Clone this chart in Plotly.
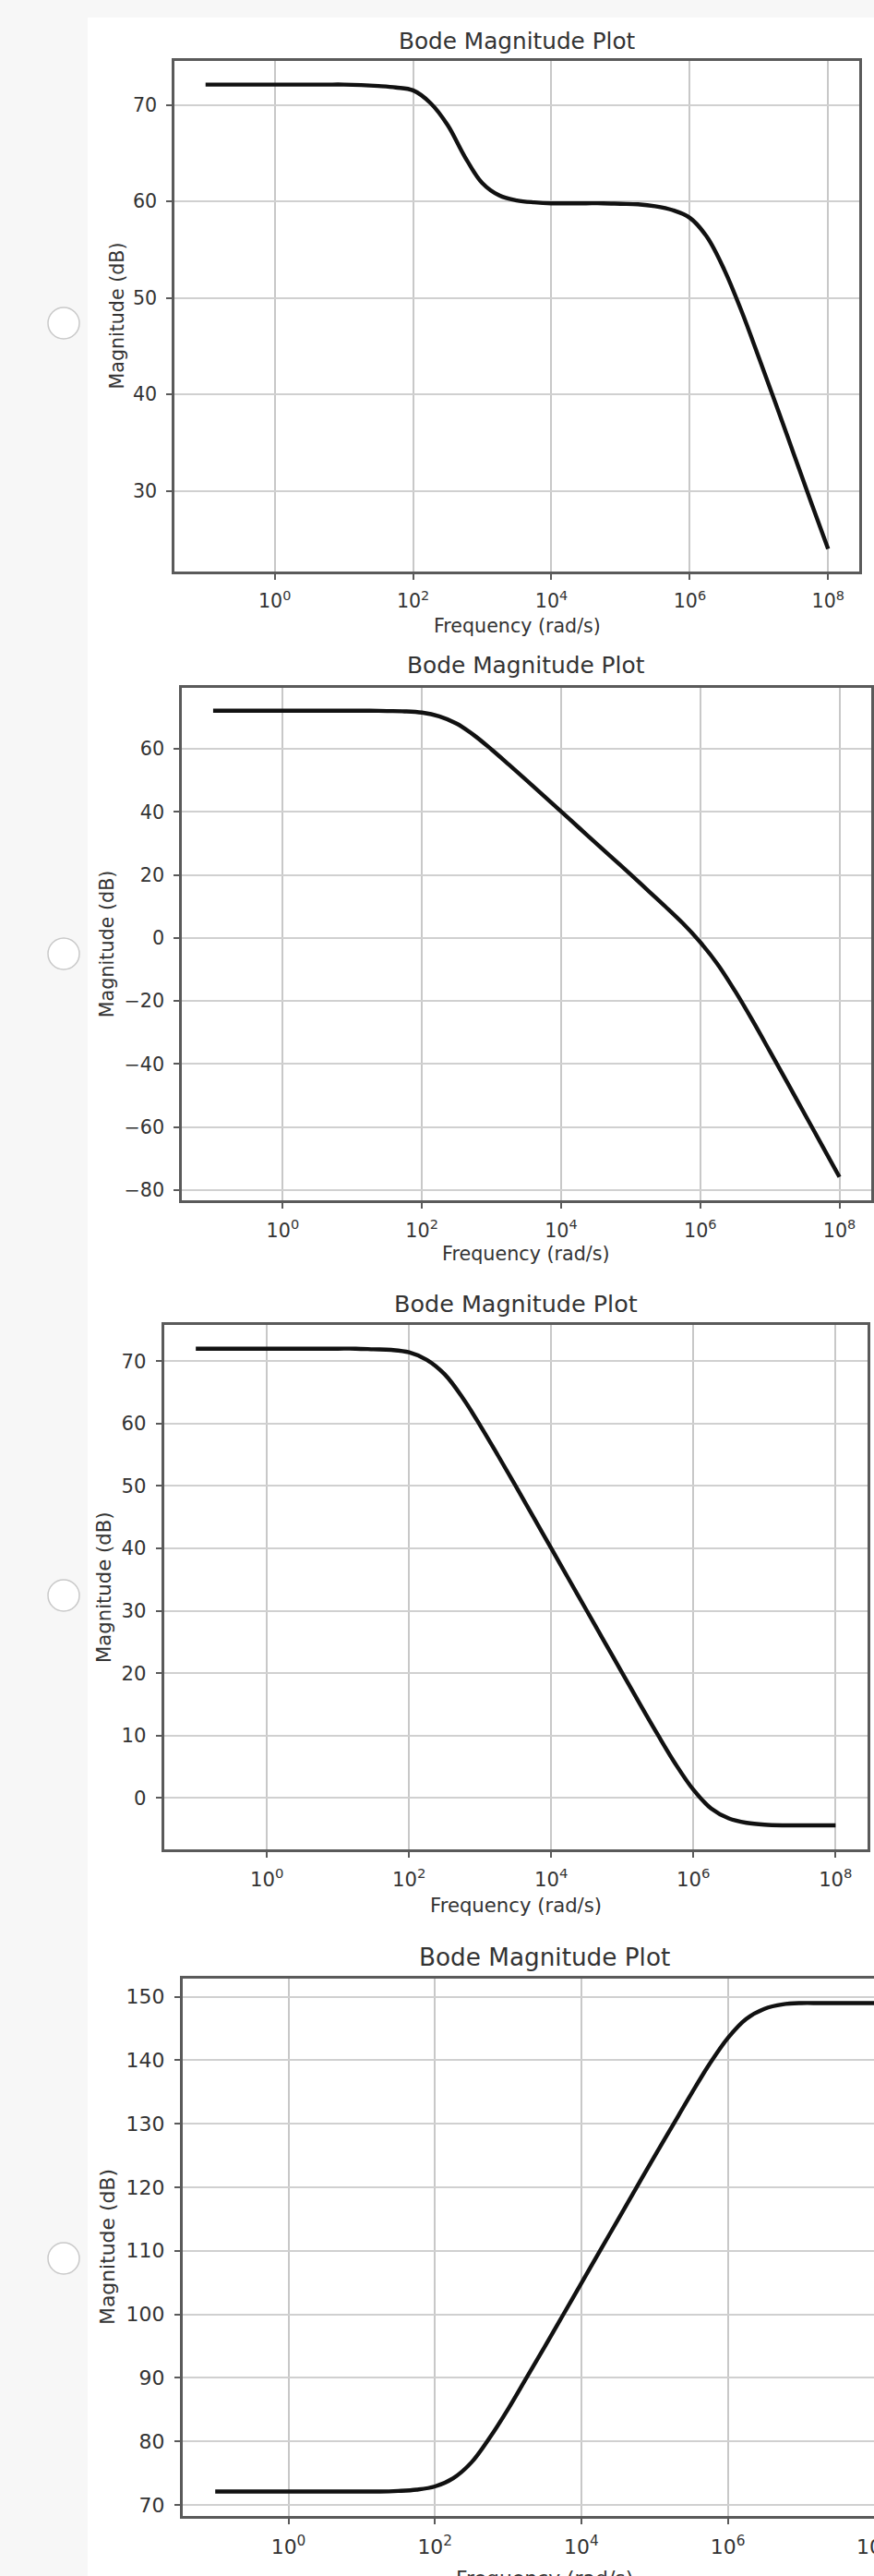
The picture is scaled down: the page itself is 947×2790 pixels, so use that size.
import plotly.graph_objects as go

W, H = 947, 2790

# ---------------- data ----------------
log_freq = [-1.0, -0.75, -0.5, -0.25, 0.0, 0.25, 0.5, 0.75, 1.0, 1.25, 1.5, 1.75,
            2.0, 2.25, 2.5, 2.75, 3.0, 3.25, 3.5, 3.75, 4.0, 4.25, 4.5, 4.75,
            5.0, 5.25, 5.5, 5.75, 6.0, 6.25, 6.5, 6.75, 7.0, 7.25, 7.5, 7.75, 8.0]

mag_a = [72.1, 72.1, 72.1, 72.1, 72.1, 72.1, 72.1, 72.1, 72.1, 72.05, 71.95, 71.8,
         71.5, 70.2, 67.9, 64.6, 61.9, 60.6, 60.1, 59.9, 59.8, 59.8, 59.8, 59.8,
         59.75, 59.7, 59.5, 59.1, 58.3, 56.3, 52.9, 48.6, 43.8, 38.9, 33.9, 28.9, 24.0]

mag_b = [72.1, 72.1, 72.1, 72.1, 72.1, 72.1, 72.1, 72.1, 72.1, 72.1, 72.0, 71.9,
         71.5, 70.3, 68.0, 64.3, 59.8, 55.0, 50.1, 45.1, 40.1, 35.1, 30.1, 25.1,
         20.1, 15.0, 9.9, 4.6, -1.4, -8.4, -16.9, -26.2, -36.0, -45.9, -55.9, -65.9, -75.9]

mag_c = [72.0, 72.0, 72.0, 72.0, 72.0, 72.0, 72.0, 72.0, 72.0, 72.0, 71.9, 71.8,
         71.4, 70.2, 67.9, 64.2, 59.7, 54.9, 50.0, 45.0, 40.0, 35.0, 30.0, 25.0,
         20.0, 15.0, 10.1, 5.4, 1.3, -1.7, -3.3, -4.0, -4.3, -4.4, -4.4, -4.4, -4.4]

mag_d = [72.1, 72.1, 72.1, 72.1, 72.1, 72.1, 72.1, 72.1, 72.1, 72.1, 72.2, 72.4,
         72.9, 74.2, 76.7, 80.6, 85.1, 90.0, 94.9, 99.9, 104.9, 109.9, 114.9, 119.9,
         124.9, 129.8, 134.7, 139.4, 143.5, 146.5, 148.1, 148.8, 149.0, 149.0, 149.0, 149.0, 149.0]

x_tick_vals = [1, 1e2, 1e4, 1e6, 1e8]
x_tick_text = ["10<sup>0</sup>", "10<sup>2</sup>", "10<sup>4</sup>", "10<sup>6</sup>", "10<sup>8</sup>"]

y_ticks_a = [30, 40, 50, 60, 70]
y_ticks_b = [-80, -60, -40, -20, 0, 20, 40, 60]
y_ticks_c = [0, 10, 20, 30, 40, 50, 60, 70]
y_ticks_d = [70, 80, 90, 100, 110, 120, 130, 140, 150]

title_text = "Bode Magnitude Plot"
x_title = "Frequency (rad/s)"
y_title = "Magnitude (dB)"

freq = [10 ** v for v in log_freq]
series = [mag_a, mag_b, mag_c, mag_d]
y_ticks = [y_ticks_a, y_ticks_b, y_ticks_c, y_ticks_d]

# ---------------- layout (pixel geometry) ----------------
panels = [
    dict(l=189.0, r=931.0, t=66.0, b=619.0, yr=(21.65, 74.55), ty=44, xly=678, ylx=127, ry=350, fs=20.6),
    dict(l=197.0, r=943.5, t=744.5, b=1300.0, yr=(-83.3, 79.5), ty=721, xly=1358, ylx=116, ry=1033, fs=20.7),
    dict(l=177.5, r=940.0, t=1435.0, b=2003.0, yr=(-8.25, 75.8), ty=1412, xly=2063, ylx=112, ry=1728, fs=21.2),
    dict(l=197.5, r=983.0, t=2143.0, b=2725.0, yr=(68.25, 152.85), ty=2120, xly=2792, ylx=116, ry=2446, fs=21.9),
]
XR = (-1.45, 8.45)

def px(x):
    return x / W

def py(y):
    return 1 - y / H

TEXT = "#333333"
FONT = "DejaVu Sans"
FRAME = "#5a5a5a"

fig = go.Figure()
annotations = []
shapes = [
    dict(type="rect", xref="paper", yref="paper", x0=px(95), x1=1, y0=0, y1=py(19),
         fillcolor="white", line=dict(width=0), layer="below"),
]

for i, (p, mag, yt) in enumerate(zip(panels, series, y_ticks)):
    n = "" if i == 0 else str(i + 1)
    right = min(p["r"], W)
    dec = (p["r"] - p["l"]) / (XR[1] - XR[0])
    xr_right = XR[0] + (right - p["l"]) / dec
    clipped = p["r"] > W

    fig.add_trace(go.Scatter(
        x=freq, y=mag, mode="lines",
        line=dict(color="#111111", width=4.4, shape="spline", smoothing=1.0),
        xaxis="x" + n, yaxis="y" + n, showlegend=False, hoverinfo="skip",
    ))

    fs = p["fs"]
    fig.layout["xaxis" + n] = dict(
        type="log", range=[XR[0], xr_right],
        domain=[px(p["l"]), px(right)], anchor="y" + n,
        tickvals=x_tick_vals, ticktext=x_tick_text,
        ticks="outside", ticklen=6, tickwidth=1.6, tickcolor=FRAME,
        ticklabelstandoff=6,
        showline=True, linecolor=FRAME, linewidth=2.5, mirror=True,
        showgrid=True, gridcolor="#c8c8c8", gridwidth=1.7,
        zeroline=False,
        tickfont=dict(family=FONT, size=fs, color=TEXT),
    )
    fig.layout["yaxis" + n] = dict(
        range=list(p["yr"]),
        domain=[py(p["b"]), py(p["t"])], anchor="x" + n,
        tickvals=yt, ticktext=[str(v).replace("-", "\u2212") for v in yt],
        ticks="outside", ticklen=6, tickwidth=1.6, tickcolor=FRAME,
        ticklabelstandoff=6,
        showline=True, linecolor=FRAME, linewidth=2.5, mirror=not clipped,
        showgrid=True, gridcolor="#d0d0d0", gridwidth=2.0,
        zeroline=False,
        tickfont=dict(family=FONT, size=fs, color=TEXT),
    )

    cx = (p["l"] + p["r"]) / 2
    cy = (p["t"] + p["b"]) / 2
    annotations.append(dict(text=title_text, x=px(cx), y=py(p["ty"]), xref="paper", yref="paper",
                            xanchor="center", yanchor="middle", showarrow=False,
                            font=dict(family=FONT, size=fs * 1.2, color=TEXT)))
    annotations.append(dict(text=x_title, x=px(cx), y=py(p["xly"]), xref="paper", yref="paper",
                            xanchor="center", yanchor="middle", showarrow=False,
                            font=dict(family=FONT, size=fs, color=TEXT)))
    annotations.append(dict(text=y_title, x=px(p["ylx"]), y=py(cy), xref="paper", yref="paper",
                            xanchor="center", yanchor="middle", textangle=-90, showarrow=False,
                            font=dict(family=FONT, size=fs, color=TEXT)))
    if clipped:
        x8 = p["l"] + (8 - XR[0]) * dec
        annotations.append(dict(text=x_tick_text[-1], x=px(x8), y=py(p["b"] + 32), xref="paper", yref="paper",
                                xanchor="center", yanchor="middle", showarrow=False,
                                font=dict(family=FONT, size=fs, color=TEXT)))
    r = 17
    shapes.append(dict(type="circle", xref="paper", yref="paper",
                       x0=px(69 - r), x1=px(69 + r), y0=py(p["ry"] + r), y1=py(p["ry"] - r),
                       line=dict(color="#c9c9c9", width=1.5), fillcolor="white", layer="above"))

fig.update_layout(
    width=W, height=H, autosize=False,
    margin=dict(l=0, r=0, t=0, b=0),
    paper_bgcolor="#f7f7f7", plot_bgcolor="white",
    annotations=annotations, shapes=shapes,
)

fig.write_html("out.html", config={"displayModeBar": False},
               post_script="document.body.style.margin='0';document.documentElement.style.overflow='hidden';")
